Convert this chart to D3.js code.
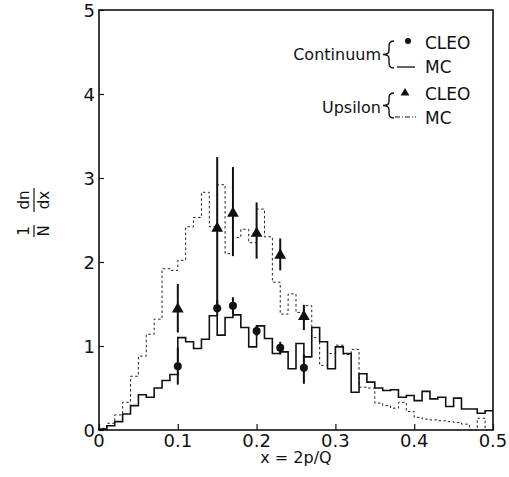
<!DOCTYPE html>
<html>
<head>
<meta charset="utf-8">
<script src="https://cdn.jsdelivr.net/npm/d3@7"></script>
<style>
  body { margin: 0; background: #fff; }
  text { font-family: "DejaVu Sans", sans-serif; fill: #111; }
</style>
</head>
<body>
<script>
// histogram bins, width 0.01 in x
const binLow = d3.range(50).map(i => i / 100);
const continuumMC = [0.01, 0.05, 0.10, 0.19, 0.29, 0.42, 0.39, 0.50, 0.59, 0.66,
  1.10, 1.05, 0.97, 1.08, 1.36, 1.13, 1.34, 1.37, 1.22, 0.99,
  1.24, 1.09, 0.91, 0.93, 0.73, 1.03, 0.87, 1.22, 1.05, 0.73,
  0.99, 0.91, 0.45, 0.67, 0.57, 0.50, 0.47, 0.48, 0.39, 0.41,
  0.35, 0.46, 0.37, 0.39, 0.28, 0.38, 0.25, 0.25, 0.20, 0.23];
const upsilonMC = [0.02, 0.08, 0.18, 0.33, 0.64, 0.88, 1.14, 1.32, 1.92, 1.90,
  2.02, 2.42, 2.53, 2.83, 2.42, 2.92, 2.10, 2.29, 2.39, 2.23,
  2.63, 2.30, 1.76, 1.38, 1.62, 1.40, 1.48, 1.10, 0.77, 0.91,
  1.01, 0.90, 0.96, 0.51, 0.50, 0.32, 0.29, 0.26, 0.33, 0.22,
  0.15, 0.13, 0.12, 0.11, 0.10, 0.09, 0.07, 0.00, 0.14, 0.00];

// CLEO data points
const pointX = [0.10, 0.15, 0.17, 0.20, 0.23, 0.26];
const continuumY = [0.76, 1.45, 1.48, 1.18, 0.98, 0.74];
const continuumLo = [0.54, 1.36, 1.38, 1.12, 0.90, 0.55];
const continuumHi = [0.98, 1.55, 1.58, 1.24, 1.05, 0.90];
const upsilonY = [1.44, 2.40, 2.58, 2.34, 2.08, 1.35];
const upsilonLo = [1.16, 1.45, 2.07, 2.04, 1.90, 1.19];
const upsilonHi = [1.74, 3.25, 3.13, 2.71, 2.28, 1.49];

const xTicks = [0, 0.1, 0.2, 0.3, 0.4, 0.5];
const xTickLabels = ["0", "0.1", "0.2", "0.3", "0.4", "0.5"];
const yTicks = [0, 1, 2, 3, 4, 5];

const W = 509, H = 477;
const svg = d3.select("body").append("svg").attr("width", W).attr("height", H);

const x = d3.scaleLinear().domain([0, 0.5]).range([99, 493]);
const y = d3.scaleLinear().domain([0, 5]).range([430, 10]);

// frame
svg.append("rect")
  .attr("x", x(0)).attr("y", y(5))
  .attr("width", x(0.5) - x(0)).attr("height", y(0) - y(5))
  .attr("fill", "none").attr("stroke", "#111").attr("stroke-width", 1.6);

// axes, ticks pointing inward
const xAxis = svg.append("g").attr("transform", `translate(0,${y(0)})`)
  .call(d3.axisTop(x).tickValues(xTicks).tickSize(6).tickFormat(""));
xAxis.select(".domain").remove();
xAxis.selectAll("line").attr("stroke", "#111").attr("stroke-width", 1.2);
svg.append("g").selectAll("text").data(xTicks).enter().append("text")
  .attr("x", d => x(d)).attr("y", 447)
  .attr("text-anchor", "middle").attr("font-size", 18)
  .text((d, i) => xTickLabels[i]);

const yAxis = svg.append("g").attr("transform", `translate(${x(0)},0)`)
  .call(d3.axisRight(y).tickValues(yTicks).tickSize(5).tickFormat(""));
yAxis.select(".domain").remove();
yAxis.selectAll("line").attr("stroke", "#111").attr("stroke-width", 1.2);
svg.append("g").selectAll("text").data(yTicks).enter().append("text")
  .attr("x", 95).attr("y", d => y(d) + 7)
  .attr("text-anchor", "end").attr("font-size", 18)
  .text(d => d);

// axis titles
svg.append("text").attr("x", 296).attr("y", 463)
  .attr("text-anchor", "middle").attr("font-size", 16).text("x = 2p/Q");

const yl = svg.append("g").attr("transform", "translate(34,217) rotate(-90)");
yl.append("text").attr("x", -14).attr("y", -5).attr("text-anchor", "middle").attr("font-size", 15).text("1");
yl.append("text").attr("x", -14).attr("y", 15).attr("text-anchor", "middle").attr("font-size", 15).text("N");
yl.append("line").attr("x1", -20).attr("x2", -8).attr("y1", 0).attr("y2", 0).attr("stroke", "#111").attr("stroke-width", 1.2);
yl.append("text").attr("x", 17).attr("y", -5).attr("text-anchor", "middle").attr("font-size", 15).text("dn");
yl.append("text").attr("x", 17).attr("y", 15).attr("text-anchor", "middle").attr("font-size", 15).text("dx");
yl.append("line").attr("x1", 5).attr("x2", 29).attr("y1", 0).attr("y2", 0).attr("stroke", "#111").attr("stroke-width", 1.2);

// step histograms
function stepPoints(vals) {
  const pts = [[0, 0]];
  vals.forEach((v, i) => pts.push([binLow[i], v]));
  pts.push([0.5, vals[vals.length - 1]]);
  return pts;
}
const stepLine = d3.line().x(d => x(d[0])).y(d => y(d[1])).curve(d3.curveStepAfter);

svg.append("path").attr("d", stepLine(stepPoints(upsilonMC)))
  .attr("fill", "none").attr("stroke", "#222").attr("stroke-width", 1)
  .attr("stroke-dasharray", "2.5,2.5");
svg.append("path").attr("d", stepLine(stepPoints(continuumMC)))
  .attr("fill", "none").attr("stroke", "#111").attr("stroke-width", 1.6);

// error bars + markers
const errs = svg.append("g").attr("stroke", "#111").attr("stroke-width", 2);
pointX.forEach((px, i) => {
  errs.append("line").attr("x1", x(px)).attr("x2", x(px))
    .attr("y1", y(upsilonLo[i])).attr("y2", y(upsilonHi[i]));
  errs.append("line").attr("x1", x(px)).attr("x2", x(px))
    .attr("y1", y(continuumLo[i])).attr("y2", y(continuumHi[i]));
});
svg.append("g").selectAll("circle").data(pointX).enter().append("circle")
  .attr("cx", d => x(d)).attr("cy", (d, i) => y(continuumY[i])).attr("r", 4)
  .attr("fill", "#111");
const tri = d3.symbol().type(d3.symbolTriangle).size(60);
svg.append("g").selectAll("path").data(pointX).enter().append("path")
  .attr("d", tri)
  .attr("transform", (d, i) => `translate(${x(d)},${y(upsilonY[i])})`)
  .attr("fill", "#111");

// legend
function brace(bx, y0, y1) {
  const m = (y0 + y1) / 2;
  return `M${bx + 8},${y0} C${bx + 3},${y0} ${bx + 3},${y0 + 3} ${bx + 3},${y0 + 6}
    L${bx + 3},${m - 4} C${bx + 3},${m - 1} ${bx + 1},${m} ${bx - 3},${m}
    C${bx + 1},${m} ${bx + 3},${m + 1} ${bx + 3},${m + 4}
    L${bx + 3},${y1 - 6} C${bx + 3},${y1 - 3} ${bx + 3},${y1} ${bx + 8},${y1}`;
}
const lg = svg.append("g");
lg.append("text").attr("x", 381).attr("y", 60).attr("text-anchor", "end").attr("font-size", 16).text("Continuum");
lg.append("path").attr("d", brace(386, 41, 68)).attr("fill", "none").attr("stroke", "#111").attr("stroke-width", 1.4);
lg.append("circle").attr("cx", 408).attr("cy", 41).attr("r", 3).attr("fill", "#111");
lg.append("text").attr("x", 425).attr("y", 49).attr("font-size", 17).text("CLEO");
lg.append("line").attr("x1", 397).attr("x2", 415).attr("y1", 67).attr("y2", 67).attr("stroke", "#111").attr("stroke-width", 1.3);
lg.append("text").attr("x", 425).attr("y", 73).attr("font-size", 17).text("MC");

lg.append("text").attr("x", 381).attr("y", 113).attr("text-anchor", "end").attr("font-size", 16).text("Upsilon");
lg.append("path").attr("d", brace(386, 93, 118)).attr("fill", "none").attr("stroke", "#111").attr("stroke-width", 1.4);
lg.append("path").attr("d", d3.symbol().type(d3.symbolTriangle).size(34)).attr("transform", "translate(405,93)").attr("fill", "#111");
lg.append("text").attr("x", 425).attr("y", 100).attr("font-size", 17).text("CLEO");
lg.append("line").attr("x1", 395).attr("x2", 416).attr("y1", 117).attr("y2", 117).attr("stroke", "#111").attr("stroke-width", 1.2).attr("stroke-dasharray", "5,2,1,2");
lg.append("text").attr("x", 425).attr("y", 124).attr("font-size", 17).text("MC");
</script>
</body>
</html>
